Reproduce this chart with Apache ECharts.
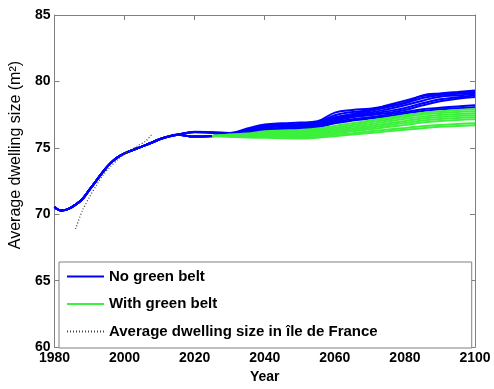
<!DOCTYPE html>
<html>
<head>
<meta charset="utf-8">
<script src="https://cdn.jsdelivr.net/npm/echarts@6/dist/echarts.min.js"></script>
<style>
html, body { margin: 0; padding: 0; background: #fff; }
#dwelling { width: 494px; height: 389px; }
</style>
</head>
<body>
<div id="dwelling"></div>
<script>
// observed / simulated history shared by all runs
var histYears = [1980, 1982, 1984, 1986, 1988, 1990, 1992, 1994, 1996, 1998, 2000, 2002, 2004, 2006, 2008, 2010, 2012, 2015];
var histSize = [70.55, 70.28, 70.4, 70.72, 71.15, 71.85, 72.55, 73.25, 73.85, 74.28, 74.58, 74.8, 75.0, 75.2, 75.42, 75.65, 75.82, 75.98];

// projections, no green belt
var futureYears = [2020, 2025, 2030, 2035, 2040, 2045, 2050, 2055, 2060, 2065, 2070, 2075, 2080, 2085, 2090, 2095, 2100];
var noBeltRuns = [
    [76.2, 76.15, 76.1, 76.45, 76.75, 76.85, 76.9, 77.0, 77.65, 77.85, 77.95, 78.15, 78.4, 78.95, 79.1, 79.2, 79.32],
    [76.22, 76.18, 76.12, 76.35, 76.65, 76.75, 76.8, 76.9, 77.45, 77.7, 77.85, 78.2, 78.55, 78.9, 79.05, 79.15, 79.22],
    [76.2, 76.15, 76.08, 76.3, 76.6, 76.72, 76.72, 76.85, 77.3, 77.5, 77.65, 77.9, 78.2, 78.55, 78.85, 78.95, 79.08],
    [75.85, 75.9, 76.05, 76.25, 76.5, 76.62, 76.65, 76.78, 77.15, 77.4, 77.55, 77.75, 78.0, 78.35, 78.65, 78.8, 78.95],
    [75.85, 75.88, 76.0, 76.2, 76.4, 76.52, 76.58, 76.72, 77.05, 77.3, 77.45, 77.62, 77.85, 78.2, 78.5, 78.7, 78.82],
    [75.85, 75.9, 76.0, 76.15, 76.35, 76.45, 76.5, 76.65, 76.95, 77.15, 77.3, 77.5, 77.7, 77.9, 78.02, 78.12, 78.2],
    [75.85, 75.88, 75.98, 76.1, 76.28, 76.38, 76.42, 76.55, 76.85, 77.05, 77.2, 77.38, 77.58, 77.78, 77.9, 77.98, 78.05],
    [76.18, 76.12, 76.05, 76.3, 76.58, 76.7, 76.68, 76.8, 77.25, 77.55, 77.78, 78.05, 78.35, 78.75, 78.98, 79.08, 79.15]
];

// projections with green belt (split from 2025)
var beltYears = [2025, 2030, 2035, 2040, 2045, 2050, 2055, 2060, 2065, 2070, 2075, 2080, 2085, 2090, 2095, 2100];
var withBeltRuns = [
    [75.9, 76.0, 76.08, 76.25, 76.3, 76.35, 76.45, 76.65, 76.85, 77.05, 77.25, 77.45, 77.62, 77.75, 77.85, 77.9],
    [75.9, 75.98, 76.02, 76.15, 76.22, 76.25, 76.35, 76.52, 76.72, 76.92, 77.12, 77.32, 77.5, 77.62, 77.7, 77.75],
    [75.9, 75.95, 75.96, 76.06, 76.12, 76.15, 76.25, 76.4, 76.58, 76.78, 76.98, 77.18, 77.35, 77.48, 77.55, 77.6],
    [75.9, 75.92, 75.92, 76.0, 76.03, 76.05, 76.15, 76.3, 76.46, 76.64, 76.84, 77.02, 77.2, 77.32, 77.4, 77.45],
    [75.9, 75.9, 75.88, 75.93, 75.95, 75.96, 76.05, 76.2, 76.35, 76.52, 76.7, 76.88, 77.05, 77.17, 77.25, 77.3],
    [75.9, 75.88, 75.85, 75.88, 75.88, 75.86, 75.95, 76.1, 76.25, 76.4, 76.56, 76.72, 76.9, 77.02, 77.1, 77.15],
    [75.9, 75.86, 75.82, 75.82, 75.8, 75.78, 75.85, 75.98, 76.1, 76.24, 76.38, 76.5, 76.62, 76.72, 76.8, 76.85],
    [75.9, 75.84, 75.78, 75.76, 75.72, 75.7, 75.76, 75.88, 76.0, 76.12, 76.24, 76.36, 76.48, 76.58, 76.65, 76.7]
];

// average dwelling size in Ile de France (statistics)
var idfYears = [1986, 1988, 1990, 1992, 1994, 1996, 1998, 2000, 2002, 2004, 2006, 2008];
var idfSize = [68.9, 70.3, 71.3, 72.2, 73.0, 73.6, 74.1, 74.55, 74.85, 75.2, 75.5, 76.1];

var yTicks = [60, 85, 5];
var xTicks = [1980, 2100, 20];

var NAME_NO = 'No green belt';
var NAME_WITH = 'With green belt';
var NAME_IDF = 'Average dwelling size in \u00eele de France';

function pairs(xs, ys) {
    return ys.map(function (v, i) { return [xs[i], v]; });
}

var series = [];
noBeltRuns.forEach(function (run) {
    series.push({
        name: NAME_NO,
        type: 'line',
        symbol: 'none',
        smooth: 0.4,
        lineStyle: { color: '#0000ff', width: 2 },
        itemStyle: { color: '#0000ff' },
        data: pairs(histYears, histSize).concat(pairs(futureYears, run))
    });
});
withBeltRuns.forEach(function (run) {
    series.push({
        name: NAME_WITH,
        type: 'line',
        symbol: 'none',
        smooth: 0.4,
        lineStyle: { color: '#3cf03c', width: 2 },
        itemStyle: { color: '#3cf03c' },
        data: pairs(beltYears, run)
    });
});
series.push({
    name: NAME_IDF,
    type: 'line',
    symbol: 'none',
    smooth: 0.3,
    z: 5,
    lineStyle: { color: '#444', width: 1.3, type: [1, 2] },
    itemStyle: { color: '#444' },
    data: pairs(idfYears, idfSize)
});

var FONT = 'Liberation Sans, Arial, sans-serif';
var boxLine = { show: true, lineStyle: { color: '#808080', width: 1 } };
var inTick = { show: true, inside: true, length: 5, lineStyle: { color: '#808080' } };
var tickFont = { color: '#000', fontSize: 14, fontWeight: 'bold', fontFamily: FONT };

var myChart = echarts.init(document.getElementById('dwelling'));
var option = {
    animation: false,
    backgroundColor: '#fff',
    grid: { left: 48.5, right: 19, top: 15, bottom: 37.5 },
    legend: {
        orient: 'vertical',
        left: 59,
        top: 262,
        padding: [7, 94, 9, 7],
        itemGap: 12.5,
        itemWidth: 37,
        itemHeight: 14,
        borderColor: '#808080',
        borderWidth: 1,
        backgroundColor: '#fff',
        itemStyle: { opacity: 0 },
        lineStyle: { width: 2 },
        textStyle: { color: '#000', fontSize: 15, fontWeight: 'bold', fontFamily: FONT },
        data: [NAME_NO, NAME_WITH, NAME_IDF]
    },
    xAxis: [{
        type: 'value',
        min: xTicks[0], max: xTicks[1], interval: xTicks[2],
        name: 'Year',
        nameLocation: 'middle',
        nameGap: 19,
        nameTextStyle: tickFont,
        axisLine: boxLine,
        axisTick: inTick,
        axisLabel: Object.assign({ margin: 4, formatter: function (v) { return String(v); } }, tickFont),
        splitLine: { show: false }
    }, {
        type: 'value',
        position: 'top',
        min: xTicks[0], max: xTicks[1], interval: xTicks[2],
        axisLine: boxLine,
        axisTick: inTick,
        axisLabel: { show: false },
        splitLine: { show: false }
    }],
    yAxis: [{
        type: 'value',
        min: yTicks[0], max: yTicks[1], interval: yTicks[2],
        name: 'Average dwelling size (m\u00b2)',
        nameLocation: 'middle',
        nameGap: 25,
        nameTextStyle: { color: '#000', fontSize: 16, fontFamily: FONT, padding: [0, 0, 0, 52] },
        axisLine: boxLine,
        axisTick: inTick,
        axisLabel: Object.assign({ margin: 4 }, tickFont),
        splitLine: { show: false }
    }, {
        type: 'value',
        position: 'right',
        min: yTicks[0], max: yTicks[1], interval: yTicks[2],
        axisLine: boxLine,
        axisTick: inTick,
        axisLabel: { show: false },
        splitLine: { show: false }
    }],
    series: series
};
myChart.setOption(option);
</script>
</body>
</html>
